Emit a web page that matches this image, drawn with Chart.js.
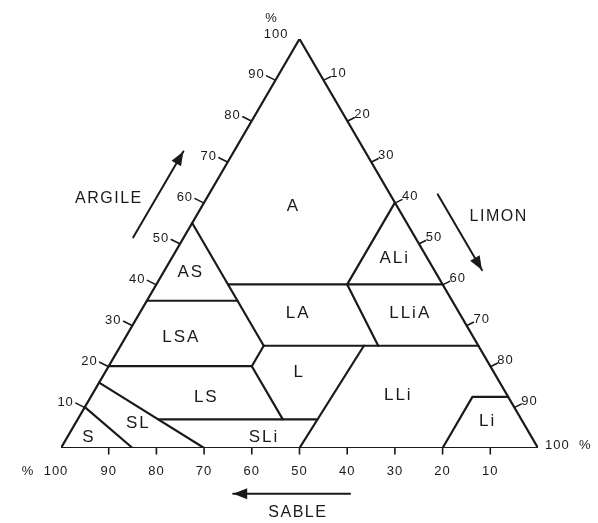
<!DOCTYPE html>
<html><head><meta charset="utf-8">
<script src="https://cdn.jsdelivr.net/npm/chart.js@4.4.1/dist/chart.umd.min.js"></script>
<style>html,body{margin:0;padding:0;background:#fff}canvas{display:block}</style>
</head><body>
<canvas id="c" width="598" height="523"></canvas>
<script>
// ---- data (compositions in %, written as [sable, limon, argile]) ----
const clayTicks = [10, 20, 30, 40, 50, 60, 70, 80, 90, 100];
const siltTicks = [10, 20, 30, 40, 50, 60, 70, 80, 90, 100];
const sandTicks = [100, 90, 80, 70, 60, 50, 40, 30, 20, 10];

const outline     = [[100, 0, 0], [0, 100, 0], [0, 0, 100], [100, 0, 0]];
const clay36Line  = [[64, 0, 36], [45, 19, 36]];            // AS / LSA
const sand45Line  = [[45, 0, 55], [45, 30, 25]];            // AS-LSA / A-LA
const silt30Line  = [[45, 30, 25], [50, 30, 20]];           // LSA / L
const sand50Line  = [[50, 30, 20], [50, 43, 7]];            // LS / L
const clay40Line  = [[45, 15, 40], [0, 60, 40]];            // A / LA, ALi / LLiA
const silt40Line  = [[0, 40, 60], [20, 40, 40]];            // A / ALi
const sand20Line  = [[20, 40, 40], [21, 54, 25]];           // LA / LLiA
const clay25Line  = [[45, 30, 25], [0, 75, 25]];            // LA / L, LLiA / LLi
const clay20Line  = [[80, 0, 20], [50, 30, 20]];            // LSA / LS
const silt50Line  = [[50, 50, 0], [24, 51, 25]];            // L-SLi / LLi
const clay7Line   = [[76, 17, 7], [43, 50, 7]];             // LS-L / SLi
const slLine      = [[84, 0, 16], [70, 30, 0]];             // SL / LS-SLi
const sLine       = [[90, 0, 10], [85, 15, 0]];             // S / SL
const liLine      = [[20, 80, 0], [7.5, 80, 12.5], [0, 87.5, 12.5]]; // Li

const classNames   = ['A', 'AS', 'ALi', 'LA', 'LLiA', 'LSA', 'L', 'LS', 'LLi', 'SL', 'S', 'SLi', 'Li'];
const classCentres = [[22, 19, 59], [51.5, 5.5, 43], [7, 46.5, 46.5], [34, 33, 33], [10.5, 56.5, 33],
                      [61.5, 11.5, 27], [41, 40.5, 18.5], [63.5, 24, 12.5], [23, 64, 13], [81, 13, 6],
                      [93, 4.3, 2.7], [56.3, 41, 2.7], [7.5, 86, 6.5]];

const axisTitles = ['ARGILE', 'LIMON', 'SABLE'];

const boundaries = [outline, clay36Line, sand45Line, silt30Line, sand50Line, clay40Line, silt40Line,
                    sand20Line, clay25Line, clay20Line, silt50Line, clay7Line, slLine, sLine, liLine];

// ---- layout helpers (style/position only) ----
const INK = '#1a1a1a';
const toXY = c => ({ x: c[1] + c[2] / 2, y: c[2] });

const datasets = boundaries.map(pts => ({
  data: pts.map(toXY),
  showLine: true,
  borderColor: INK,
  borderWidth: 2.2,
  pointRadius: 0,
  tension: 0,
  fill: false,
  borderCapStyle: 'round',
  borderJoinStyle: 'round'
}));

// guide positions expressed in composition space (outside the triangle)
const guides = {
  argile: { from: [61.1, -10.6, 51.5], to: [38.1, -10.6, 72.5], text: [59.4, -20.5, 61.1] },
  limon:  { from: [-10, 48, 62],       to: [-10, 66.5, 43.5],    text: [-20, 63.5, 56.5] },
  sable:  { from: [45, 66.2, -11.2],   to: [69.5, 41.7, -11.2],  text: [58.3, 57.6, -15.9] }
};

const drawPlugin = {
  id: 'soil',
  afterDatasetsDraw(chart) {
    const ctx = chart.ctx, xs = chart.scales.x, ys = chart.scales.y;
    const px = c => { const p = toXY(c); return { x: xs.getPixelForValue(p.x), y: ys.getPixelForValue(p.y) }; };
    ctx.save();
    ctx.strokeStyle = INK; ctx.fillStyle = INK; ctx.lineWidth = 1.6; ctx.lineCap = 'round';
    const line = (a, b) => { ctx.beginPath(); ctx.moveTo(a.x, a.y); ctx.lineTo(b.x, b.y); ctx.stroke(); };

    // tick labels
    ctx.font = '13px "Liberation Sans", Arial, sans-serif';
    ctx.letterSpacing = '1px';
    ctx.textBaseline = 'middle';
    clayTicks.forEach(v => {
      const p = px([100 - v, 0, v]);
      if (v < 100) line({ x: p.x - 9, y: p.y - 4 }, { x: p.x - 1, y: p.y });
      ctx.textAlign = 'right';
      ctx.fillText(String(v), p.x - 11, p.y - 5);
      if (v === 100) { ctx.textAlign = 'center'; ctx.fillText('%', p.x - 28, p.y - 21); }
    });
    siltTicks.forEach(v => {
      const p = px([0, v, 100 - v]);
      if (v < 100) line({ x: p.x + 1, y: p.y }, { x: p.x + 7, y: p.y - 3 });
      ctx.textAlign = 'left';
      ctx.fillText(v === 100 ? String(v) + '  %' : String(v), p.x + 7, p.y - (v === 100 ? 3 : 6));
    });
    sandTicks.forEach(v => {
      const p = px([v, 100 - v, 0]);
      ctx.textAlign = 'center';
      if (v === 100) {
        ctx.fillText(String(v), p.x - 5, p.y + 23);
        ctx.fillText('%', p.x - 33, p.y + 23);
      } else {
        line({ x: p.x, y: p.y }, { x: p.x, y: p.y + 6 });
        ctx.fillText(String(v), p.x, p.y + 23);
      }
    });

    // class labels
    ctx.font = '17px "Liberation Sans", Arial, sans-serif';
    ctx.letterSpacing = '2px';
    ctx.textAlign = 'center';
    classNames.forEach((n, i) => { const p = px(classCentres[i]); ctx.fillText(n, p.x + 1, p.y); });

    // axis titles and arrows
    ctx.font = '16px "Liberation Sans", Arial, sans-serif';
    ctx.letterSpacing = '1.5px';
    const g = [guides.argile, guides.limon, guides.sable];
    g.forEach((gd, i) => {
      const a = px(gd.from), b = px(gd.to), t = px(gd.text);
      ctx.lineWidth = 2;
      line(a, b);
      const ang = Math.atan2(b.y - a.y, b.x - a.x), L = 14, W = 5.5;
      ctx.beginPath();
      ctx.moveTo(b.x, b.y);
      ctx.lineTo(b.x - L * Math.cos(ang) + W * Math.sin(ang), b.y - L * Math.sin(ang) - W * Math.cos(ang));
      ctx.lineTo(b.x - L * Math.cos(ang) - W * Math.sin(ang), b.y - L * Math.sin(ang) + W * Math.cos(ang));
      ctx.closePath(); ctx.fill();
      ctx.textAlign = 'center';
      ctx.fillText(axisTitles[i], t.x, t.y);
    });
    ctx.restore();
  }
};

new Chart(document.getElementById('c'), {
  type: 'scatter',
  data: { datasets },
  options: {
    responsive: false,
    animation: false,
    layout: { padding: { left: 61, right: 60, top: 39, bottom: 75 } },
    scales: {
      x: { type: 'linear', min: 0, max: 100, display: false },
      y: { type: 'linear', min: 0, max: 100, display: false }
    },
    plugins: { legend: { display: false }, tooltip: { enabled: false }, title: { display: false } }
  },
  plugins: [drawPlugin]
});
</script>
</body></html>
